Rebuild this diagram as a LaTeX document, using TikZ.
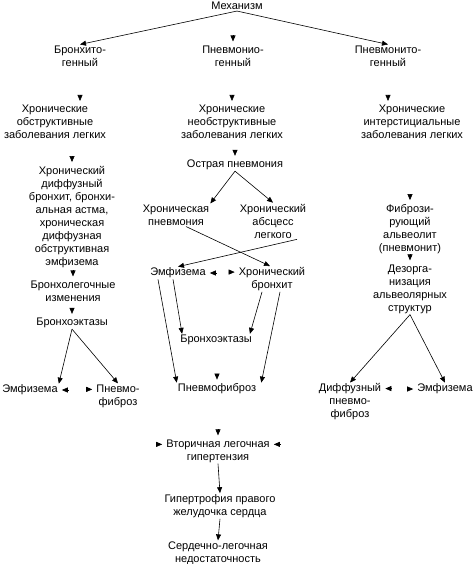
\documentclass[tikz,border=0pt]{standalone}
\usepackage{fontspec}
\setmainfont{Liberation Sans}
\usetikzlibrary{arrows.meta}
\begin{document}
\begin{tikzpicture}[
			x=1pt, y=-1pt,
			every node/.style={font=\fontsize{11}{13}\selectfont, align=center, inner sep=1pt},
			arr/.style={-{Triangle[length=6pt,width=5pt]}, line width=0.6pt}
		]
		\useasboundingbox (0,0) rectangle (475,564);
		% top level
		\node (mech) at (237,6) {Механизм};
		\node (bron) at (80,56) {Бронхито-\\генный};
		\node (pnio) at (233,56) {Пневмонио-\\генный};
		\node (pnit) at (388,56) {Пневмонито-\\генный};
		\node (obst) at (55,122) {Хронические\\обструктивные\\заболевания легких};
		\node (neob) at (232,122) {Хронические\\необструктивные\\заболевания легких};
		\node (inter) at (412,122) {Хронические\\интерстициальные\\заболевания легких};
		% left branch
		\node (diff) at (72,217) {Хронический\\диффузный\\бронхит, бронхи-\\альная астма,\\хроническая\\диффузная\\обструктивная\\эмфизема};
		\node (bl) at (73,291) {Бронхолегочные\\изменения};
		\node (bekL) at (72,323) {Бронхоэктазы};
		\node (emL) at (30,390) {Эмфизема};
		\node (pfL) at (118,396) {Пневмо-\\фиброз};
		% middle branch
		\node (op) at (235,165) {Острая пневмония};
		\node (chp) at (176,215) {Хроническая\\пневмония};
		\node (abs) at (273,221) {Хронический\\абсцесс\\легкого};
		\node (emM) at (178,273) {Эмфизема};
		\node (chb) at (272,279) {Хронический\\бронхит};
		\node (bekM) at (216,340) {Бронхоэктазы};
		\node (pfM) at (217,389) {Пневмофиброз};
		\node (vlg) at (218,451) {Вторичная легочная\\гипертензия};
		\node (gip) at (220,506) {Гипертрофия правого\\желудочка сердца};
		\node (sln) at (218,553) {Сердечно-легочная\\недостаточность};
		% right branch
		\node (fib) at (410,229) {Фибрози-\\рующий\\альвеолит\\(пневмонит)};
		\node (dez) at (410,289) {Дезорга-\\низация\\альвеолярных\\структур};
		\node (dpf) at (350,402) {Диффузный\\пневмо-\\фиброз};
		\node (emR) at (445,389) {Эмфизема};
		% lines
		\draw[arr] (mech.south) -- (bron.north);
		\draw[arr] (mech.south) -- (pnit.north);
		\draw[arr] (bekL.south) -- (emL.north east);
		\draw[arr] (bekL.south) -- (pfL.north);
		\draw[arr] (op.south) -- (chp.north east);
		\draw[arr] (op.south) -- (abs.north);
		\draw[arr] ([xshift=10pt]chp.south) -- ([xshift=-2pt]chb.north);
		\draw[arr] ([xshift=24pt]abs.south) -- (emM.north);
		\draw[arr] ([xshift=-20pt]emM.south) -- (pfM.north west);
		\draw[arr] ([xshift=-5pt]emM.south) -- ([xshift=3pt]bekM.north west);
		\draw[arr] ([xshift=-10pt]chb.south) -- ([xshift=-3pt]bekM.north east);
		\draw[arr] ([xshift=8pt]chb.south) -- ([xshift=4pt]pfM.north east);
		\draw[arr] (dez.south) -- (dpf.north);
		\draw[arr] (dez.south) -- (emR.north);
		\draw[arr] (vlg.south) -- (gip.north);
		\draw[arr] (gip.south) -- (sln.north);
		% single heads
		\draw[arr] ([yshift=9pt]pnio.north) -- ([yshift=3pt]pnio.north);
		\draw[arr] ([yshift=9pt]bron.south |- obst.north) -- ([yshift=3pt]bron.south |- obst.north);
		\draw[arr] ([yshift=9pt]neob.north) -- ([yshift=3pt]neob.north);
		\draw[arr] ([yshift=9pt]pnit.south |- inter.north) -- ([yshift=3pt]pnit.south |- inter.north);
		\draw[arr] ([yshift=9pt]diff.north) -- ([yshift=3pt]diff.north);
		\draw[arr] ([yshift=9pt]bl.north) -- ([yshift=3pt]bl.north);
		\draw[arr] ([yshift=9pt]bekL.north) -- ([yshift=3pt]bekL.north);
		\draw[arr] ([xshift=9pt]emL.east) -- ([xshift=3pt]emL.east);
		\draw[arr] ([xshift=-9pt,yshift=-6pt]pfL.north west) -- ([xshift=-3pt,yshift=-6pt]pfL.north west);
		\draw[arr] ([yshift=9pt]op.north) -- ([yshift=3pt]op.north);
		\draw[arr] ([xshift=9pt]emM.east) -- ([xshift=3pt]emM.east);
		\draw[arr] ([xshift=-9pt,yshift=-6pt]chb.north west) -- ([xshift=-3pt,yshift=-6pt]chb.north west);
		\draw[arr] ([yshift=9pt]pfM.north) -- ([yshift=3pt]pfM.north);
		\draw[arr] ([yshift=9pt]vlg.north) -- ([yshift=3pt]vlg.north);
		\draw[arr] ([xshift=-9pt,yshift=-6pt]vlg.north west) -- ([xshift=-3pt,yshift=-6pt]vlg.north west);
		\draw[arr] ([xshift=9pt,yshift=-6pt]vlg.north east) -- ([xshift=3pt,yshift=-6pt]vlg.north east);
		\draw[arr] ([yshift=9pt]fib.north) -- ([yshift=3pt]fib.north);
		\draw[arr] ([yshift=9pt]dez.north) -- ([yshift=3pt]dez.north);
		\draw[arr] ([xshift=9pt,yshift=-6pt]dpf.north east) -- ([xshift=3pt,yshift=-6pt]dpf.north east);
		\draw[arr] ([xshift=-9pt]emR.west) -- ([xshift=-3pt]emR.west);
	\end{tikzpicture}
\end{document}
